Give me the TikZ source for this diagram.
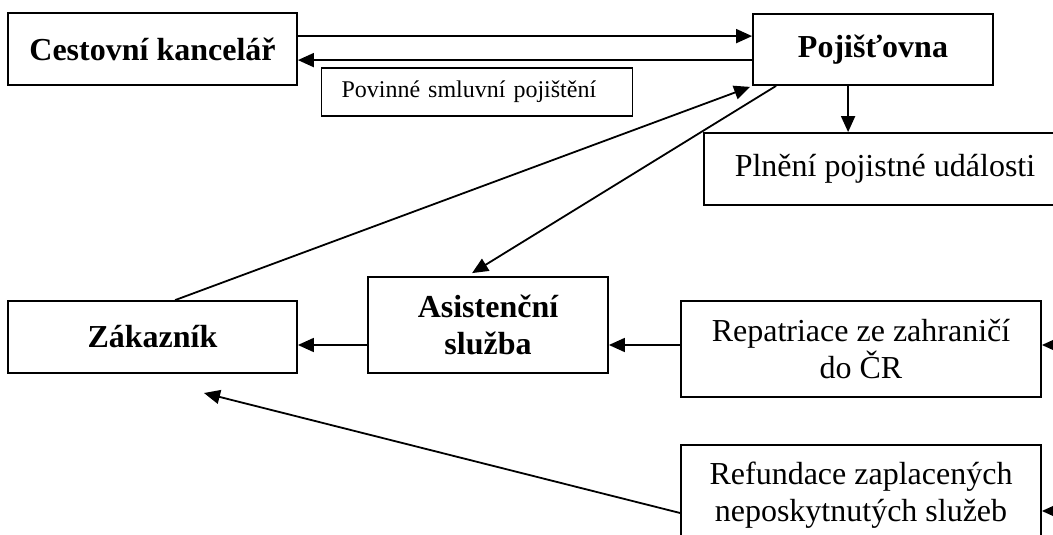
\documentclass[tikz,border=0pt]{standalone}
\usepackage{fontspec}
\setmainfont{Liberation Serif}
\usetikzlibrary{arrows.meta,calc}
\begin{document}
\begin{tikzpicture}[x=1pt,y=-1pt,
  box/.style={draw, line width=1.8pt, inner sep=0pt, align=center},
  big/.style={font=\fontsize{32}{37}\selectfont},
  bigb/.style={font=\fontsize{32}{37}\selectfont\bfseries},
  small/.style={font=\fontsize{24}{28}\selectfont},
  conn/.style={line width=1.8pt, -{Triangle[length=16pt,width=14pt]}}]
\path[use as bounding box, clip] (0,0) rectangle (1053,535);
\fill[white] (0,0) rectangle (1053,535);

% boxes
\node[box,bigb,minimum width=289pt,minimum height=72pt] (ck) at (152.5,49) {Cestovní kancelář};
\node[box,bigb,minimum width=240pt,minimum height=71pt] (poj) at (873,49.5) {Pojišťovna};
\node[box,small,minimum height=48pt,inner xsep=20pt,text width=271pt,align=left] (pov) at (477,92) {Povinné smluvní pojištění};
\node[box,big,minimum width=362pt,minimum height=72pt] (pln) at (885,169) {Plnění pojistné události};
\node[box,bigb,minimum width=289pt,minimum height=72pt] (zak) at (152.5,337) {Zákazník};
\node[box,bigb,minimum width=240pt,minimum height=96pt] (asi) at (488,325) {Asistenční\\služba};
\node[box,big,minimum width=360pt,minimum height=96pt] (rep) at (861,349) {Repatriace ze zahraničí\\do ČR};
\node[box,big,minimum width=360pt,minimum height=100pt] (ref) at (861,495) {Refundace zaplacených\\neposkytnutých služeb};

% free ends
\coordinate (inR) at (1075,345);
\coordinate (inF) at (1075,511);
\coordinate (refTip) at (204,393);

% connectors
\draw[conn] ($(ck.north east)+(0,24)$) -- ($(poj.north west)+(0,23)$);
\draw[conn] ($(poj.north west)+(0,47)$) -- ($(ck.north east)+(0,48)$);
\draw[conn] ($(zak.north west)+(168,0)$) -- ($(poj.south west)+(-2,1)$);
\draw[conn] ($(poj.south west)+(24,0)$) -- ($(asi.north west)+(105,-3)$);
\draw[conn] ($(poj.south west)+(96,0)$) -- ($(pln.north west)+(145,0)$);
\draw[conn] ($(asi.west)+(0,20)$) -- ($(zak.east)+(0,8)$);
\draw[conn] ($(rep.west)+(0,-4)$) -- ($(asi.east)+(0,20)$);
\draw[conn] (inR) -- ($(rep.east)+(0,-4)$);
\draw[conn] (inF) -- ($(ref.east)+(0,16)$);
\draw[conn] ($(ref.west)+(0,18)$) -- (refTip);
\end{tikzpicture}
\end{document}
